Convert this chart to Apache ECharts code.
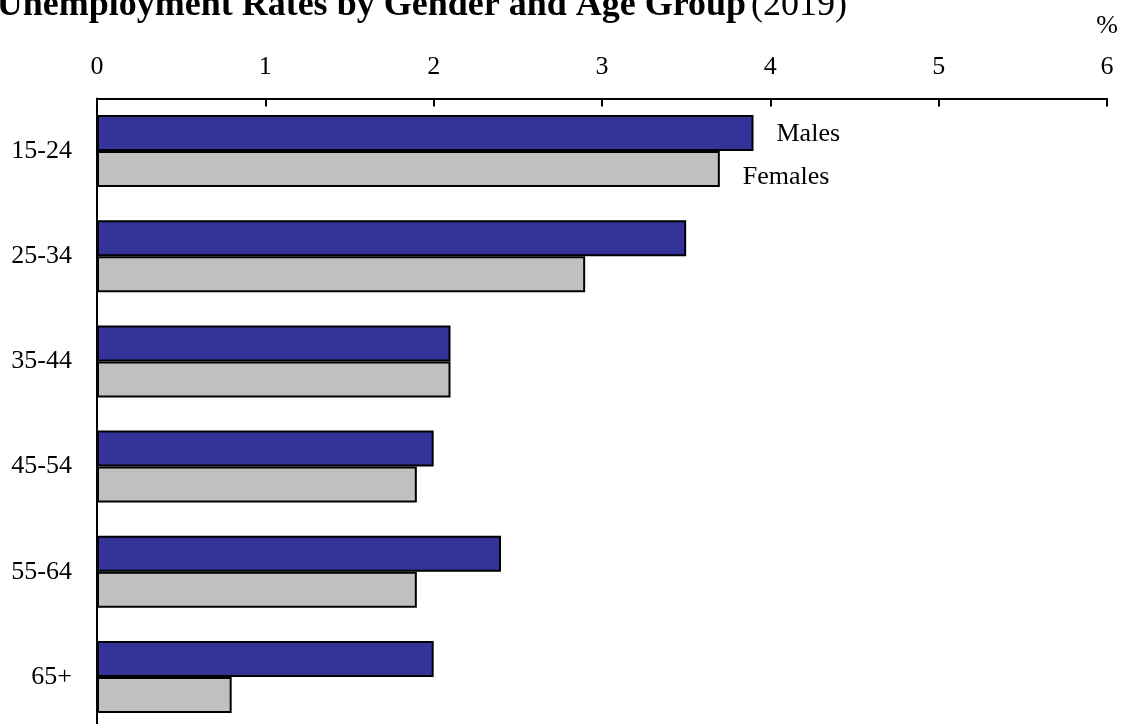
<!DOCTYPE html>
<html>
<head>
<meta charset="utf-8">
<script src="https://cdn.jsdelivr.net/npm/echarts@6/dist/echarts.min.js"></script>
<style>
  html, body { margin: 0; padding: 0; background: #ffffff; }
  #chart { width: 1122px; height: 724px; }
</style>
</head>
<body>
<div id="chart"></div>
<script>
// Unemployment rates (%) by age group, 2019
const ageGroups = ['15-24', '25-34', '35-44', '45-54', '55-64', '65+'];
const males = [3.9, 3.5, 2.1, 2.0, 2.4, 2.0];
const females = [3.7, 2.9, 2.1, 1.9, 1.9, 0.8];
const rateTicks = [0, 1, 2, 3, 4, 5, 6];

const serif = '"Times New Roman", "Liberation Serif", serif';

// Only the first age group carries the series name beside its bar
function withNameLabel(values, offsetY) {
  return values.map((v, i) => i === 0
    ? { value: v, label: { show: true, position: 'right', distance: 23, offset: [0, offsetY],
        formatter: '{a}', color: '#000', fontFamily: serif, fontSize: 26 } }
    : v);
}

const chart = echarts.init(document.getElementById('chart'), null, { renderer: 'canvas' });
chart.setOption({
  animation: false,
  backgroundColor: '#ffffff',
  title: {
    text: '{b|Unemployment Rates by Gender and Age Group} {r|(2019)}',
    right: 275,
    top: -12,
    padding: 0,
    textStyle: {
      rich: {
        b: { fontFamily: serif, fontWeight: 'bold', fontSize: 36, lineHeight: 36, color: '#000' },
        r: { fontFamily: serif, fontWeight: 'normal', fontSize: 36, lineHeight: 36, color: '#000' }
      }
    }
  },
  graphic: [{
    type: 'text',
    right: 4,
    top: 13,
    style: { text: '%', fontFamily: serif, fontSize: 26, fill: '#000' }
  }],
  // the plot area runs a little past the bottom edge of the page
  grid: { left: 97, right: 15, top: 98.4, height: 631.2, containLabel: false, outerBoundsMode: 'none' },
  xAxis: {
    type: 'value',
    position: 'top',
    min: rateTicks[0],
    max: rateTicks[rateTicks.length - 1],
    interval: 1,
    splitLine: { show: false },
    axisLine: { show: true, lineStyle: { color: '#000', width: 2 } },
    axisTick: { show: true, inside: true, length: 8, lineStyle: { color: '#000', width: 2 } },
    axisLabel: { color: '#000', fontFamily: serif, fontSize: 26, lineHeight: 26, margin: 18 }
  },
  yAxis: {
    type: 'category',
    data: ageGroups,
    inverse: true,
    axisLine: { show: true, lineStyle: { color: '#000', width: 2 } },
    axisTick: { show: false },
    axisLabel: { color: '#000', fontFamily: serif, fontSize: 26, margin: 25 }
  },
  series: [
    {
      name: 'Males',
      type: 'bar',
      data: withNameLabel(males, 1),
      barWidth: 36,
      barGap: '0%',
      itemStyle: { color: '#333399', borderColor: '#000', borderWidth: 2 }
    },
    {
      name: 'Females',
      type: 'bar',
      data: withNameLabel(females, 8),
      barWidth: 36,
      barGap: '0%',
      itemStyle: { color: '#c0c0c0', borderColor: '#000', borderWidth: 2 }
    }
  ]
});
</script>
</body>
</html>
